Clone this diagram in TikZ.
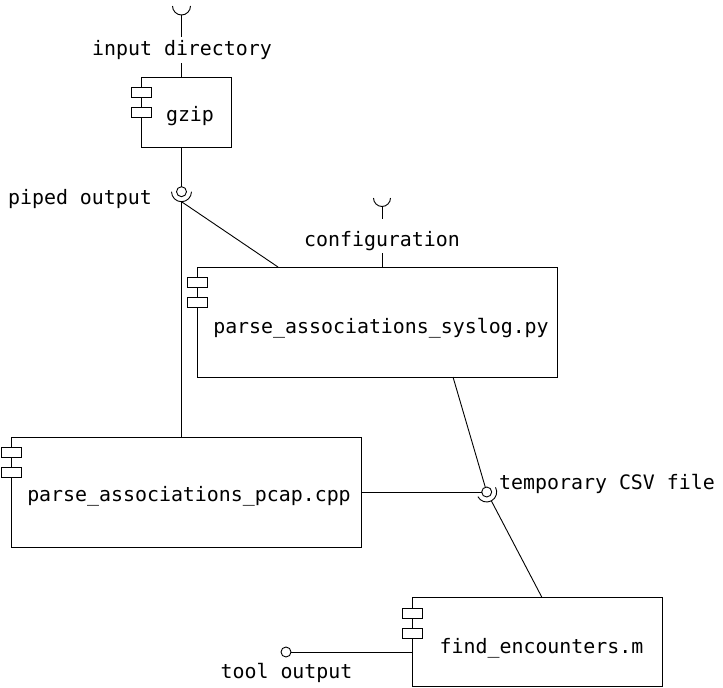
\documentclass[tikz,border=0pt]{standalone}
\usepackage{fontspec}
\newfontfamily\dvm{DejaVu Sans Mono}
\usetikzlibrary{calc}
\tikzset{
  lbl/.style={font=\dvm\fontsize{19.9}{24}\selectfont, inner sep=0pt, text=black},
  seglbl/.style={lbl, text height=15pt, text depth=5pt, inner ysep=3pt},
  compbox/.style={draw, line width=0.9pt, inner sep=0pt, outer sep=0pt, rectangle},
  lolli/.style={draw, circle, line width=0.9pt, minimum size=10pt, inner sep=0pt, outer sep=0pt},
  conn/.style={line width=0.9pt},
}
\newcommand\compicon[1]{%
  \draw[conn, fill=white] ([xshift=-10pt,yshift=-10.5pt]#1.north west) rectangle ++(20,-10);
  \draw[conn, fill=white] ([xshift=-10pt,yshift=-30.5pt]#1.north west) rectangle ++(20,-10);
}
\begin{document}
\begin{tikzpicture}[x=1pt,y=1pt]
\useasboundingbox (0,0) rectangle (723,-688);

% component boxes
\node[compbox, minimum width=90pt, minimum height=70pt] (gzip) at (186,-112) {};
\node[compbox, minimum width=360pt, minimum height=110pt] (syslog) at (377,-322) {};
\node[compbox, minimum width=350pt, minimum height=110pt] (pcap) at (186,-492) {};
\node[compbox, minimum width=250pt, minimum height=89pt] (find) at (537,-642) {};
\compicon{gzip}
\compicon{syslog}
\compicon{pcap}
\compicon{find}
\node[lbl, anchor=base] (gzipT) at (190,-121) {gzip};
\node[lbl, anchor=base] (syslogT) at (381,-333) {parse\_associations\_syslog.py};
\node[lbl, anchor=base] (pcapT) at (189,-501) {parse\_associations\_pcap.cpp};
\node[lbl, anchor=base] (findT) at (541.5,-653) {find\_encounters.m};

% input directory
\coordinate (inS) at (181.5,-15);
\draw[conn] (172.5,-6) arc[start angle=180, end angle=360, radius=9];
\node[seglbl, anchor=base] (inL) at (182,-55) {input directory};
\draw[conn] (inS) -- (inS |- inL.north);
\draw[conn] (inS |- inL.south) -- (inS |- gzip.north);

% piped output
\node[lolli] (pipeC) at (181.5,-191.7) {};
\coordinate (pipeS) at (181.5,-201.7);
\draw[conn] (pipeC |- gzip.south) -- (pipeC);
\draw[conn] (171.5,-191.7) arc[start angle=180, end angle=360, radius=10];
\node[lbl, anchor=base] (pipeL) at (80,-204) {piped output};
\draw[conn] (pipeS) -- (pipeS |- pcap.north);
\draw[conn] (pipeS) -- ([xshift=81pt]syslog.north west);

% configuration
\coordinate (cfgS) at (382,-206.5);
\draw[conn] (373.5,-198) arc[start angle=180, end angle=360, radius=8.5];
\node[seglbl, text height=24pt, text depth=4pt, anchor=base] (cfgL) at (382,-246) {configuration};
\draw[conn] (cfgS) -- (cfgS |- cfgL.north);
\draw[conn] (cfgS |- cfgL.south) -- (cfgS |- syslog.north);

% temporary CSV file
\node[lolli] (tmpC) at (486.7,-492) {};
\coordinate (tmpS) at (491.35,-500.85);
\draw[conn] (pcap.east) -- (tmpC);
\draw[conn] ([xshift=256pt]syslog.south west) -- (tmpC);
\draw[conn] (tmpC) ++(-152.27:10) arc[start angle=-152.27, end angle=27.73, radius=10];
\draw[conn] (tmpS) -- ([xshift=130pt]find.north west);
\node[lbl, anchor=base west] (tmpL) at (499,-489) {temporary CSV file};

% tool output
\node[lolli] (toolC) at (286,-652) {};
\draw[conn] (toolC) -- (toolC -| find.west);
\node[lbl, anchor=base] (toolL) at (286.5,-678) {tool output};
\end{tikzpicture}
\end{document}
